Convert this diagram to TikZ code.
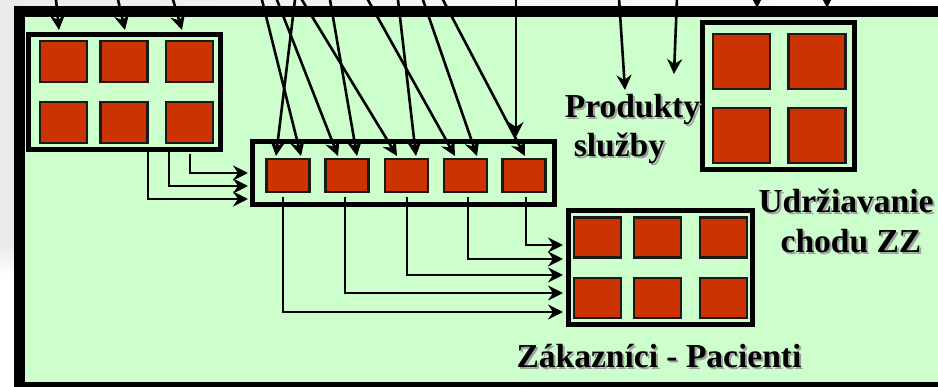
\documentclass[tikz,border=0pt]{standalone}
\usepackage{fontspec}
\setmainfont{Liberation Serif}
\usetikzlibrary{arrows.meta,calc}
\definecolor{bggreen}{HTML}{CCFFCC}
\definecolor{sqred}{HTML}{CC3300}
\definecolor{sqedge}{HTML}{1A1A1A}
\definecolor{shadowgray}{HTML}{A0A0A0}
\definecolor{stripgray}{HTML}{EBEBEB}
\begin{document}
\begin{tikzpicture}[x=1pt,y=-1pt,
  frame/.style={draw=black,line width=11pt,fill=bggreen},
  grp/.style={draw=black,line width=5.5pt,fill=bggreen,inner sep=0pt,outer sep=0pt},
  sq/.style={draw=sqedge,line width=2.4pt,fill=sqred,inner sep=0pt,outer sep=0pt},
  sqA/.style={sq,minimum width=47pt,minimum height=41pt},
  sqB/.style={sq,minimum width=43pt,minimum height=33pt},
  sqC/.style={sq,minimum width=47pt,minimum height=40pt},
  sqD/.style={sq,minimum width=57pt,minimum height=55pt},
  arr/.style={line width=2.6pt,-{Stealth[length=15pt,width=15pt,inset=5pt]}},
  lbl/.style={font=\bfseries\fontsize{33.5}{38}\selectfont,inner sep=0pt,anchor=base,text=black},
  shd/.style={lbl,text=shadowgray},
]
\useasboundingbox (0,0) rectangle (938,387);
% outside background
\fill[white] (0,0) rectangle (938,387);
\shade[left color=stripgray,right color=white] (0,0) rectangle (938,7);
\fill[stripgray] (0,0) rectangle (14,245);
\shade[top color=stripgray,bottom color=white] (0,245) rectangle (14,275);

% arrowheads above the frame (towards maintenance block)
\coordinate (u1) at (757,-20);
\coordinate (u2) at (827,-20);

% main frame
\draw[frame] (19.5,12) rectangle (948,387.5);

% group boxes
\node[grp,minimum width=192pt,minimum height=115pt] (boxA) at (124.5,92) {};
\node[grp,minimum width=302pt,minimum height=63pt] (boxB) at (403.5,173) {};
\node[grp,minimum width=184pt,minimum height=114pt] (boxC) at (660.5,267.5) {};
\node[grp,minimum width=152pt,minimum height=147pt] (boxD) at (778.5,96) {};

\draw[arr] (u1) -- ([xshift=-21.5pt,yshift=14.5pt]boxD.north);
\draw[arr] (u2) -- ([xshift=48.5pt,yshift=14.5pt]boxD.north);

% squares A
\node[sqA] (a11) at (63.5,61.5) {};
\node[sqA] (a12) at (124,61.5) {};
\node[sqA] (a13) at (189.5,61.5) {};
\node[sqA] (a21) at (63.5,122.5) {};
\node[sqA] (a22) at (124,122.5) {};
\node[sqA] (a23) at (189.5,122.5) {};
% squares B
\node[sqB] (b1) at (288,175.5) {};
\node[sqB] (b2) at (347,175.5) {};
\node[sqB] (b3) at (406.5,175.5) {};
\node[sqB] (b4) at (465.5,175.5) {};
\node[sqB] (b5) at (524,175.5) {};
% squares C
\node[sqC] (c11) at (597.5,237.5) {};
\node[sqC] (c12) at (657.5,237.5) {};
\node[sqC] (c13) at (723.5,237.5) {};
\node[sqC] (c21) at (597.5,298) {};
\node[sqC] (c22) at (657.5,298) {};
\node[sqC] (c23) at (723.5,298) {};
% squares D
\node[sqD] (d11) at (741.5,61.5) {};
\node[sqD] (d12) at (817,61.5) {};
\node[sqD] (d21) at (741.5,135.5) {};
\node[sqD] (d22) at (817,135.5) {};

% incoming arrows into A
\coordinate (s1) at (55.8,-2);
\coordinate (s2) at (117.6,-2);
\coordinate (s3) at (172.5,-2);
\draw[arr] (s1) -- ([xshift=-65.5pt,yshift=4.5pt]boxA.north);
\draw[arr] (s2) -- ([xshift=0.5pt,yshift=4.5pt]boxA.north);
\draw[arr] (s3) -- ([xshift=57.5pt,yshift=4.5pt]boxA.north);

% incoming arrows into B
\coordinate (t1) at (261.5,-2);
\coordinate (t2) at (276.2,-2);
\coordinate (t3) at (295.2,-2);
\coordinate (t4) at (300.8,-2);
\coordinate (t5) at (329.7,-2);
\coordinate (t6) at (366.9,-2);
\coordinate (t7) at (397.8,-2);
\coordinate (t8) at (422.3,-2);
\coordinate (t9) at (442,-2);
\coordinate (t10) at (516,-2);
\draw[arr] (t1) -- ([xshift=13pt,yshift=3pt]b1.north);
\draw[arr] (t2) -- ([xshift=-9pt,yshift=3pt]b2.north);
\draw[arr] (t3) -- ([xshift=-12pt,yshift=3pt]b1.north);
\draw[arr] (t4) -- ([xshift=-9.5pt,yshift=3pt]b3.north);
\draw[arr] (t5) -- ([xshift=10pt,yshift=3pt]b2.north);
\draw[arr] (t6) -- ([xshift=-10.5pt,yshift=3pt]b4.north);
\draw[arr] (t7) -- ([xshift=9.5pt,yshift=3pt]b3.north);
\draw[arr] (t8) -- ([xshift=11.5pt,yshift=3pt]b4.north);
\draw[arr] (t9) -- ([xshift=1pt,yshift=3pt]b5.north);
\draw[arr] (t10) -- ([xshift=112.5pt,yshift=4.5pt]boxB.north);

% arrows to products
\coordinate (p1) at (619,-2);
\coordinate (p2) at (677,-2);
\coordinate (pt1) at (625,90);
\coordinate (pt2) at (674,74);
\draw[arr] (p1) -- (pt1);
\draw[arr] (p2) -- (pt2);

% A -> B
\draw[arr] ([xshift=65.5pt,yshift=-5pt]boxA.south) |- ([xshift=-4.5pt]boxB.west);
\draw[arr] ([xshift=44.5pt]boxA.south) |- ([xshift=-4.5pt,yshift=-13pt]boxB.west);
\draw[arr] ([xshift=23.5pt]boxA.south) |- ([xshift=-4.5pt,yshift=-26pt]boxB.west);

% B -> C
\draw[arr] ([xshift=2pt,yshift=-5pt]b5.south) |- ([xshift=-5.5pt,yshift=22.5pt]boxC.west);
\draw[arr] ([xshift=2.5pt,yshift=-5pt]b4.south) |- ([xshift=-5.5pt,yshift=8.5pt]boxC.west);
\draw[arr] ([xshift=0.5pt,yshift=-5pt]b3.south) |- ([xshift=-5.5pt,yshift=-7.5pt]boxC.west);
\draw[arr] ([xshift=-2pt,yshift=-5pt]b2.south) |- ([xshift=-5.5pt,yshift=-25.5pt]boxC.west);
\draw[arr] ([xshift=-5pt,yshift=-5pt]b1.south) |- ([xshift=-5.5pt,yshift=-44.5pt]boxC.west);

% labels
\node[shd] (prodS) at (634.5,120) {Produkty};
\node[lbl] (prod) at (632.5,118) {Produkty};
\node[shd] (sluzS) at (621.5,159) {služby};
\node[lbl] (sluz) at (619.5,157) {služby};
\node[shd] (udrS) at (848,215) {Udržiavanie};
\node[lbl] (udr) at (846,213) {Udržiavanie};
\node[shd] (chodS) at (853,255) {chodu ZZ};
\node[lbl] (chod) at (851,253) {chodu ZZ};
\node[shd] (zakS) at (661,370) {Zákazníci - Pacienti};
\node[lbl] (zak) at (659,368) {Zákazníci - Pacienti};
\end{tikzpicture}
\end{document}
